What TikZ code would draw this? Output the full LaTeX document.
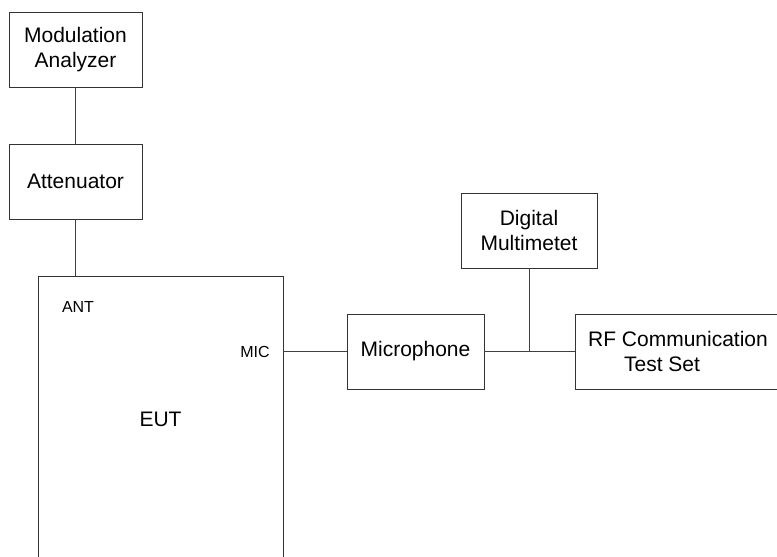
\documentclass[tikz,border=0pt]{standalone}
\usepackage{fontspec}
\setmainfont{Liberation Sans}
\begin{document}
\begin{tikzpicture}[x=1pt,y=-1pt,
  box/.style={draw=black!80,line width=0.9pt,rectangle,inner sep=0pt,align=center,font=\fontsize{21}{25}\selectfont},
  wire/.style={draw=black!75,line width=0.9pt},
  small/.style={font=\fontsize{16}{19}\selectfont,inner sep=0pt}]
\useasboundingbox (0,0) rectangle (777,557);
\node[box,minimum width=133,minimum height=75] (mod) at (75.5,49.5) {Modulation\\Analyzer};
\node[box,minimum width=133,minimum height=75] (att) at (75.5,181.5) {Attenuator};
\node[box,minimum width=245,minimum height=286] (eut) at (160.5,419) {EUT};
\node[box,minimum width=136,minimum height=75] (dmm) at (529,230.5) {Digital\\Multimetet};
\node[box,minimum width=137,minimum height=75] (mic) at (415.5,351.5) {Microphone};
\node[box,minimum width=206,minimum height=75,align=left] (rf) at (678,351.5) {RF Communication\\\hspace*{36pt}Test Set};
\node[small] (ant) at (78,307) {ANT};
\node[small] (micl) at (255,352) {MIC};
\coordinate (port) at (eut.east |- mic.west);
\coordinate (junc) at (dmm.south |- mic.east);
\draw[wire] (mod.south) -- (att.south |- att.north);
\draw[wire] (att.south) -- (att.south |- eut.north);
\draw[wire] (port) -- (mic.west);
\draw[wire] (mic.east) -- (rf.west);
\draw[wire] (dmm.south) -- (junc);
\end{tikzpicture}
\end{document}
